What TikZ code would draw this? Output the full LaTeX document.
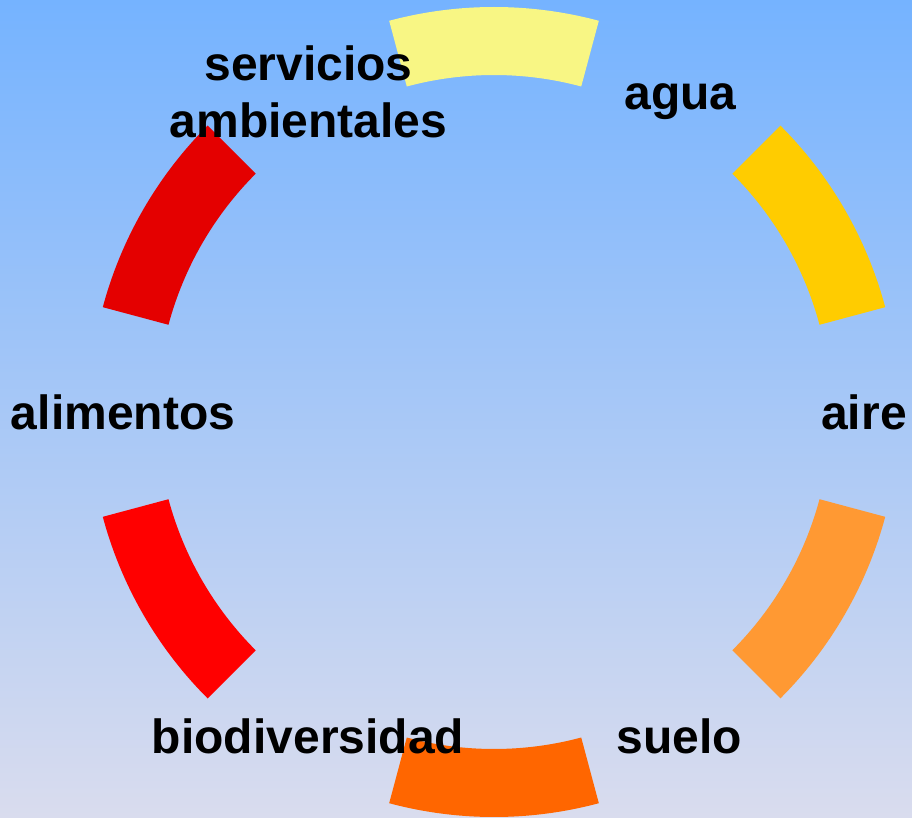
\documentclass[tikz,border=0pt]{standalone}
\usepackage{fontspec}
\setmainfont{Liberation Sans}
\definecolor{bgtop}{HTML}{75B3FF}
\definecolor{bgmid}{HTML}{9DC6F8}
\definecolor{bgbot}{HTML}{D9DCEE}
\definecolor{segA}{HTML}{F8F684}
\definecolor{segB}{HTML}{FFCC00}
\definecolor{segC}{HTML}{FF9933}
\definecolor{segD}{HTML}{FF6600}
\definecolor{segE}{HTML}{FF0000}
\definecolor{segF}{HTML}{E40000}
\begin{document}
\begin{tikzpicture}[x=1pt,y=1pt,
  lbl/.style={inner sep=0pt,outer sep=0pt,anchor=base,font=\fontsize{48}{57.5}\selectfont\bfseries,text=black,align=center}]
\useasboundingbox (0,0) rectangle (912,817);
\shade[top color=bgtop,middle color=bgmid,bottom color=bgbot] (0,0) rectangle (912,817);
\coordinate (C) at (494,405);
\foreach \a/\c in {90/segA,30/segB,-30/segC,-90/segD,-150/segE,150/segF}{
  \fill[\c,shift={(C)}] (\a-15:405) arc[start angle=\a-15,end angle=\a+15,radius=405]
     -- (\a+15:337) arc[start angle=\a+15,end angle=\a-15,radius=337] -- cycle;
}
\node[lbl] (serv) at (308.5,679) {servicios\\ambientales};
\node[lbl] (agua) at (680.5,707) {agua};
\node[lbl] (aire) at (864,387) {aire};
\node[lbl] (alim) at (123,387) {alimentos};
\node[lbl] (suelo) at (679,64) {suelo};
\node[lbl] (biod) at (308,64) {biodiversidad};
\end{tikzpicture}
\end{document}
